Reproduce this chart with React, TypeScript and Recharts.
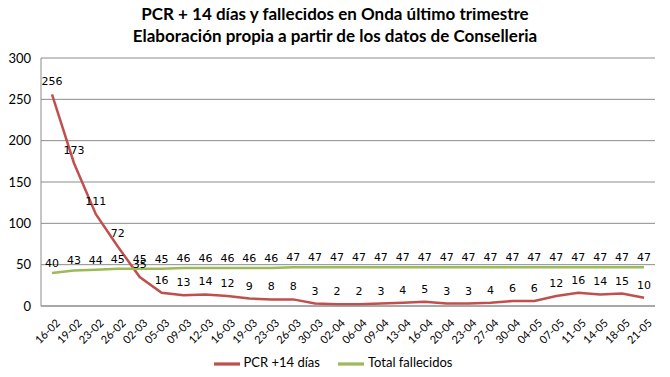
import { LineChart, Line, XAxis, YAxis, CartesianGrid, Legend, LabelList } from 'recharts'

const fechas = [
  '16-02', '19-02', '23-02', '26-02', '02-03', '05-03', '09-03', '12-03', '16-03', '19-03',
  '23-03', '26-03', '30-03', '02-04', '06-04', '09-04', '13-04', '16-04', '20-04', '23-04',
  '27-04', '30-04', '04-05', '07-05', '11-05', '14-05', '18-05', '21-05',
]
const pcr14 = [256, 173, 111, 72, 35, 16, 13, 14, 12, 9, 8, 8, 3, 2, 2, 3, 4, 5, 3, 3, 4, 6, 6, 12, 16, 14, 15, 10]
const fallecidos = [40, 43, 44, 45, 45, 45, 46, 46, 46, 46, 46, 47, 47, 47, 47, 47, 47, 47, 47, 47, 47, 47, 47, 47, 47, 47, 47, 47]
const yTicks = [0, 50, 100, 150, 200, 250, 300]

const RED = '#c0504d'
const GREEN = '#9bbb59'
const FONT = 'Lato, "Liberation Sans", sans-serif'

const data = fechas.map((f, i) => ({ fecha: f, pcr: pcr14[i], total: fallecidos[i] }))

function DateTick({ x, y, payload }: any) {
  return (
    <g transform={`translate(${x + 3},${y + 4})`}>
      <text transform="rotate(-45)" textAnchor="end" dy={8} fontSize={11} fill="#000" fontFamily={FONT}>
        {payload.value}
      </text>
    </g>
  )
}

export default function App() {
  return (
    <div style={{ margin: -8, width: 668, height: 375, border: '1px solid #8c8c8c', position: 'relative', background: '#fff', fontFamily: FONT }}>
      <div style={{ position: 'absolute', top: 2, width: '100%', textAlign: 'center', fontWeight: 700, fontSize: 17, lineHeight: '22px' }}>
        <div>PCR + 14 días y fallecidos en Onda último trimestre</div>
        <div>Elaboración propia a partir de los datos de Conselleria</div>
      </div>
      <LineChart width={668} height={375} data={data} margin={{ top: 57, right: 14, left: 0, bottom: 4 }}>
        <CartesianGrid vertical={false} stroke="#8c8c8c" />
        <XAxis
          dataKey="fecha"
          interval={0}
          tick={<DateTick />}
          height={40}
          stroke="#8c8c8c"
          tickLine={false}
          padding={{ left: 11, right: 11 }}
        />
        <YAxis
          domain={[0, 300]}
          ticks={yTicks}
          width={40}
          stroke="#8c8c8c"
          tickLine={false}
          tickSize={0}
          tickMargin={10}
          tick={{ fontSize: 13, fill: '#000', fontFamily: FONT }}
        />
        <Legend
          verticalAlign="bottom"
          iconType="plainline"
          iconSize={26}
          wrapperStyle={{ fontSize: 13, color: '#000', bottom: -1, left: 14 }}
          formatter={(v) => <span style={{ color: '#000', marginRight: 8 }}>{v}</span>}
        />
        <Line
          type="linear"
          dataKey="pcr"
          name="PCR +14 días"
          stroke={RED}
          strokeWidth={2.5}
          dot={false}
          isAnimationActive={false}
        >
          <LabelList dataKey="pcr" position="top" offset={9} fontSize={11} fill="#000" fontFamily="DejaVu Sans" />
        </Line>
        <Line
          type="linear"
          dataKey="total"
          name="Total fallecidos"
          stroke={GREEN}
          strokeWidth={2.5}
          dot={false}
          isAnimationActive={false}
        >
          <LabelList dataKey="total" position="top" offset={6} fontSize={11} fill="#000" fontFamily="DejaVu Sans" />
        </Line>
      </LineChart>
    </div>
  )
}
